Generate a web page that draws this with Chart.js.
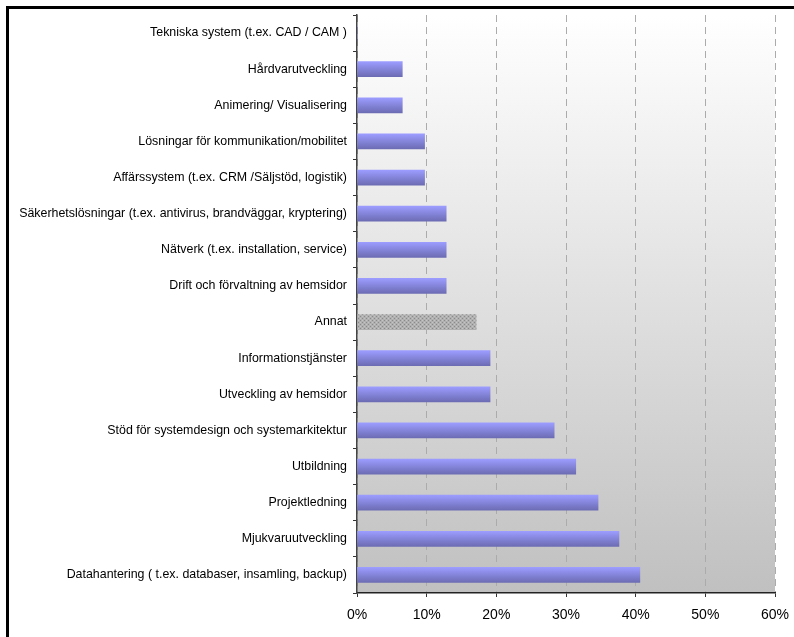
<!DOCTYPE html>
<html>
<head>
<meta charset="utf-8">
<script src="https://cdn.jsdelivr.net/npm/chart.js@4.4.0/dist/chart.umd.min.js"></script>
<style>
  html, body { margin: 0; padding: 0; background: #fff; }
  #wrap { position: relative; width: 794px; height: 637px; }
  #frame { position: absolute; left: 6px; top: 6px; right: 0; bottom: 0;
           border-left: 3px solid #000; border-top: 3px solid #000; pointer-events: none; }
</style>
</head>
<body>
<div id="wrap">
  <canvas id="chart" width="794" height="637"></canvas>
  <div id="frame"></div>
</div>
<script>
// Tjänsteområden, uppifrån och ned
const categories = [
  'Tekniska system (t.ex. CAD / CAM )',
  'Hårdvarutveckling',
  'Animering/ Visualisering',
  'Lösningar för kommunikation/mobilitet',
  'Affärssystem (t.ex. CRM /Säljstöd, logistik)',
  'Säkerhetslösningar (t.ex. antivirus, brandväggar, kryptering)',
  'Nätverk (t.ex. installation, service)',
  'Drift och förvaltning av hemsidor',
  'Annat',
  'Informationstjänster',
  'Utveckling av hemsidor',
  'Stöd för systemdesign och systemarkitektur',
  'Utbildning',
  'Projektledning',
  'Mjukvaruutveckling',
  'Datahantering ( t.ex. databaser, insamling, backup)'
];
// Andel i procent
const shares = [0, 6.5, 6.5, 9.7, 9.7, 12.8, 12.8, 12.8, 17.1, 19.1, 19.1, 28.3, 31.4, 34.6, 37.6, 40.6];
const xTickValues = [0, 10, 20, 30, 40, 50, 60];
const otherLabel = 'Annat';

const FONT = 'Liberation Sans, Arial, sans-serif';
const canvas = document.getElementById('chart');
const ctx = canvas.getContext('2d');

// prickigt mönster för "Annat"
function makeHatch() {
  const p = document.createElement('canvas');
  p.width = 4; p.height = 4;
  const c = p.getContext('2d');
  c.fillStyle = '#b0b0b0';
  c.fillRect(0, 0, 4, 4);
  c.fillStyle = '#8a8a8a';
  c.fillRect(0, 0, 1, 1);
  c.fillRect(2, 2, 1, 1);
  c.fillStyle = '#c4c4c4';
  c.fillRect(2, 0, 1, 1);
  c.fillRect(0, 2, 1, 1);
  return ctx.createPattern(p, 'repeat');
}
const hatch = makeHatch();

// grå gradient bakom plotytan
const plotBackground = {
  id: 'plotBackground',
  beforeDraw(chart) {
    const a = chart.chartArea;
    const c = chart.ctx;
    const g = c.createLinearGradient(0, a.top, 0, a.bottom);
    g.addColorStop(0, '#ffffff');
    g.addColorStop(1, '#c0c0c0');
    c.save();
    c.fillStyle = g;
    c.fillRect(a.left, a.top, a.right - a.left, a.bottom - a.top);
    c.restore();
  }
};

function barFill(c) {
  if (c.type !== 'data') return '#9999ff';
  if (categories[c.dataIndex] === otherLabel) return hatch;
  const y = c.chart.scales.y;
  if (!y || y.top === undefined) return '#9999ff';
  const yc = y.getPixelForValue(c.dataIndex);
  const g = c.chart.ctx.createLinearGradient(0, yc - 7.5, 0, yc + 7.5);
  g.addColorStop(0, '#9c9cff');
  g.addColorStop(1, '#6c6cb4');
  return g;
}

new Chart(ctx, {
  type: 'bar',
  data: {
    labels: categories,
    datasets: [{
      data: shares,
      backgroundColor: barFill,
      borderWidth: 0,
      barThickness: 15
    }]
  },
  plugins: [plotBackground],
  options: {
    indexAxis: 'y',
    responsive: false,
    animation: false,
    devicePixelRatio: 1,
    layout: { padding: { top: 15, right: 19, left: 0, bottom: 0 } },
    plugins: {
      legend: { display: false },
      tooltip: { enabled: false }
    },
    scales: {
      x: {
        min: 0,
        max: 60,
        afterBuildTicks: (scale) => { scale.ticks = xTickValues.map(v => ({ value: v })); },
        afterFit: (scale) => {
          scale.height = 44;
          scale.paddingLeft = 0;
          scale.paddingRight = 0;
        },
        ticks: {
          callback: (v) => v + '%',
          color: '#000',
          padding: 10,
          maxRotation: 0,
          font: { family: FONT, size: 14 }
        },
        grid: {
          color: '#ababab',
          lineWidth: 1,
          tickLength: 4,
          tickColor: '#333',
          tickWidth: 1
        },
        border: { display: true, color: '#222', width: 1.5, dash: [7, 5] }
      },
      y: {
        afterFit: (scale) => { scale.width = 357; },
        ticks: {
          color: '#000',
          padding: 6,
          autoSkip: false,
          font: { family: FONT, size: 12.4 }
        },
        grid: {
          drawOnChartArea: false,
          drawTicks: true,
          tickLength: 4,
          tickColor: '#333',
          color: '#333'
        },
        border: { display: true, color: '#444', width: 1.5 }
      }
    }
  }
});
</script>
</body>
</html>
